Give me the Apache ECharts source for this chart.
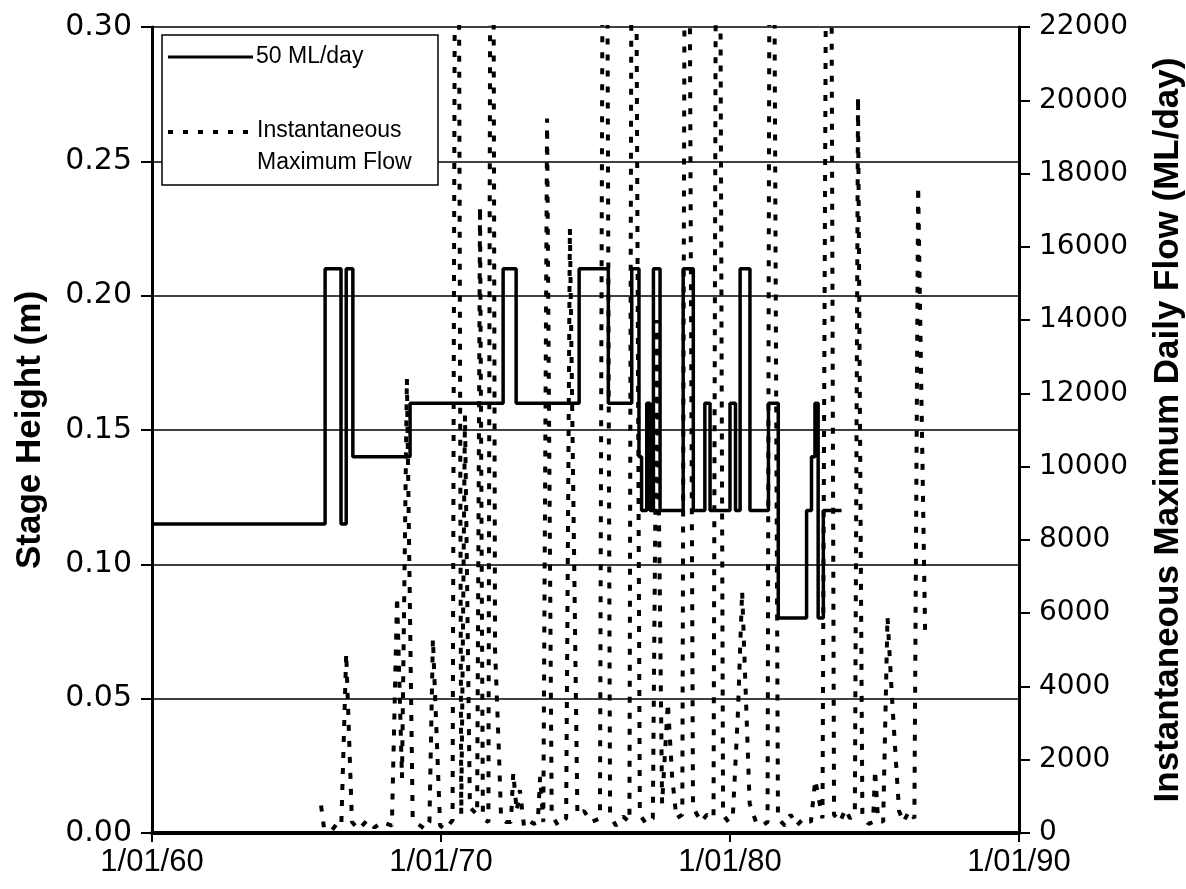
<!DOCTYPE html>
<html>
<head>
<meta charset="utf-8">
<title>Stage height and flow</title>
<script src="https://cdn.jsdelivr.net/npm/echarts@6/dist/echarts.min.js"></script>
<style>
  html, body { margin: 0; padding: 0; background: #fff; }
  #chart { width: 1186px; height: 889px; }
</style>
</head>
<body>
<div id="chart"></div>
<script>
// stage height for 50 ML/day (step changes, value holds until next year)
const stageYears = [1960, 1965.99, 1966.54, 1966.72, 1966.95, 1968.93, 1972.15, 1972.6, 1974.78, 1975.79,
    1976.6, 1976.85, 1976.94, 1977.12, 1977.23, 1977.35, 1977.58, 1978.38, 1978.73, 1979.13,
    1979.31, 1980.0, 1980.19, 1980.35, 1980.69, 1981.33, 1981.67, 1982.65, 1982.82, 1982.94,
    1983.05, 1983.23, 1983.86];
const stageValues = [0.115, 0.21, 0.115, 0.21, 0.14, 0.16, 0.21, 0.16, 0.21, 0.16,
    0.21, 0.14, 0.12, 0.16, 0.12, 0.21, 0.12, 0.21, 0.12, 0.16,
    0.12, 0.16, 0.12, 0.21, 0.12, 0.16, 0.08, 0.12, 0.14, 0.16,
    0.08, 0.12, 0.12];

// instantaneous maximum flow (ML/day); peaks above 22000 run off the top of the chart
const flowYears = [1965.85, 1965.95, 1966.2, 1966.4, 1966.55, 1966.72, 1966.92, 1967.15, 1967.45, 1967.7,
    1967.95, 1968.3, 1968.48, 1968.65, 1968.82, 1969.02, 1969.2, 1969.45, 1969.6, 1969.72,
    1969.97, 1970.15, 1970.4, 1970.55, 1970.7, 1970.83, 1971.0, 1971.25, 1971.35, 1971.45,
    1971.64, 1971.76, 1971.87, 1972.0, 1972.08, 1972.25, 1972.42, 1972.5, 1972.62, 1972.73,
    1972.87, 1973.05, 1973.2, 1973.35, 1973.43, 1973.54, 1973.67, 1973.83, 1974.05, 1974.33,
    1974.46, 1974.72, 1974.95, 1975.2, 1975.5, 1975.67, 1975.85, 1976.05, 1976.3, 1976.52,
    1976.65, 1976.88, 1977.1, 1977.33, 1977.47, 1977.65, 1977.85, 1978.0, 1978.15, 1978.35,
    1978.5, 1978.72, 1979.0, 1979.2, 1979.43, 1979.58, 1979.76, 1979.95, 1980.1, 1980.27,
    1980.42, 1980.68, 1980.9, 1981.1, 1981.3, 1981.42, 1981.66, 1981.9, 1982.1, 1982.3,
    1982.55, 1982.8, 1982.95, 1983.2, 1983.43, 1983.6, 1983.8, 1984.0, 1984.15, 1984.32,
    1984.43, 1984.58, 1984.8, 1984.95, 1985.02, 1985.12, 1985.3, 1985.45, 1985.62, 1985.85,
    1986.0, 1986.2, 1986.38, 1986.51, 1986.75];
const flowValues = [750, 150, 50, 250, 200, 4900, 300, 100, 350, 150,
    300, 200, 6450, 1500, 12400, 400, 250, 100, 300, 5300,
    200, 100, 350, 45000, 500, 11400, 700, 500, 17100, 400,
    300, 45000, 5000, 2300, 400, 300, 300, 1640, 600, 1170,
    200, 350, 250, 300, 1530, 300, 19500, 500, 200, 400,
    16500, 500, 600, 300, 400, 45000, 500, 200, 450, 300,
    45000, 500, 250, 400, 14000, 800, 3550, 1500, 400, 500,
    45000, 700, 300, 500, 400, 45000, 500, 300, 500, 3200,
    6600, 800, 300, 200, 300, 45000, 400, 200, 500, 200,
    400, 300, 1450, 400, 45000, 500, 300, 650, 400, 500,
    20100, 500, 250, 300, 1720, 400, 300, 5900, 3500, 600,
    300, 600, 400, 17650, 5540];

const xTicks = [1960, 1970, 1980, 1990];
const leftTicks = [0, 0.05, 0.10, 0.15, 0.20, 0.25, 0.30];
const rightTicks = [0, 2000, 4000, 6000, 8000, 10000, 12000, 14000, 16000, 18000, 20000, 22000];

const chart = echarts.init(document.getElementById('chart'));
const FONT = 'Liberation Sans, Arial, sans-serif';

chart.setOption({
    backgroundColor: '#fff',
    animation: false,
    grid: { left: 152, right: 167, top: 27, bottom: 56, containLabel: false, outerBoundsMode: 'none' },
    xAxis: {
        type: 'value', min: xTicks[0], max: xTicks[xTicks.length - 1], interval: 10,
        axisLine: { lineStyle: { color: '#000', width: 4 } },
        axisTick: { length: 9, lineStyle: { color: '#000', width: 2 } },
        axisLabel: { color: '#000', fontFamily: FONT, fontSize: 31, margin: 14,
            formatter: v => '1/01/' + String(v).slice(2) },
        splitLine: { show: false }
    },
    yAxis: [{
        type: 'value', min: leftTicks[0], max: leftTicks[leftTicks.length - 1], interval: 0.05,
        name: 'Stage Height (m)', nameLocation: 'middle', nameGap: 104, nameRotate: 90,
        nameTextStyle: { color: '#000', fontFamily: FONT, fontWeight: 'bold', fontSize: 35 },
        axisLine: { show: true, lineStyle: { color: '#000', width: 3 } },
        axisTick: { show: true, length: 11, lineStyle: { color: '#000', width: 2 } },
        axisLabel: { color: '#000', fontFamily: 'DejaVu Sans, sans-serif', fontSize: 30, margin: 20,
            formatter: v => v.toFixed(2) },
        splitLine: { show: true, lineStyle: { color: '#000', width: 1.5 } }
    }, {
        type: 'value', min: rightTicks[0], max: rightTicks[rightTicks.length - 1], interval: 2000,
        position: 'right',
        name: 'Instantaneous Maximum Daily Flow (ML/day)', nameLocation: 'middle', nameGap: 132, nameRotate: 90,
        nameTextStyle: { color: '#000', fontFamily: FONT, fontWeight: 'bold', fontSize: 35 },
        axisLine: { show: true, lineStyle: { color: '#000', width: 3 } },
        axisTick: { show: true, length: 11, lineStyle: { color: '#000', width: 2 } },
        axisLabel: { color: '#000', fontFamily: 'DejaVu Sans, sans-serif', fontSize: 28, margin: 20,
            formatter: v => String(v) },
        splitLine: { show: false }
    }],
    series: [{
        name: '50 ML/day', type: 'line', yAxisIndex: 0, step: 'end',
        data: stageYears.map((y, i) => [y, stageValues[i]]),
        symbol: 'none', lineStyle: { color: '#000', width: 3.5 }, clip: true
    }, {
        name: 'Instantaneous Maximum Flow', type: 'line', yAxisIndex: 1,
        data: flowYears.map((y, i) => [y, flowValues[i]]),
        symbol: 'none', lineStyle: { color: '#000', width: 4, type: [6, 10] }, clip: true
    }],
    graphic: [
        { type: 'rect', shape: { x: 162, y: 35, width: 276, height: 150 },
          style: { fill: '#fff', stroke: '#000', lineWidth: 1.5 }, z: 100 },
        { type: 'line', shape: { x1: 168, y1: 57, x2: 253, y2: 57 },
          style: { stroke: '#000', lineWidth: 3 }, z: 101 },
        { type: 'text', x: 256, y: 57, z: 101,
          style: { text: '50 ML/day', fill: '#000', font: '23px ' + FONT, textVerticalAlign: 'middle' } },
        { type: 'line', shape: { x1: 168, y1: 132, x2: 253, y2: 132 },
          style: { stroke: '#000', lineWidth: 4, lineDash: [5, 10] }, z: 101 },
        { type: 'text', x: 257, y: 131, z: 101,
          style: { text: 'Instantaneous', fill: '#000', font: '23px ' + FONT, textVerticalAlign: 'middle' } },
        { type: 'text', x: 257, y: 163, z: 101,
          style: { text: 'Maximum Flow', fill: '#000', font: '23px ' + FONT, textVerticalAlign: 'middle' } }
    ]
});
</script>
</body>
</html>
